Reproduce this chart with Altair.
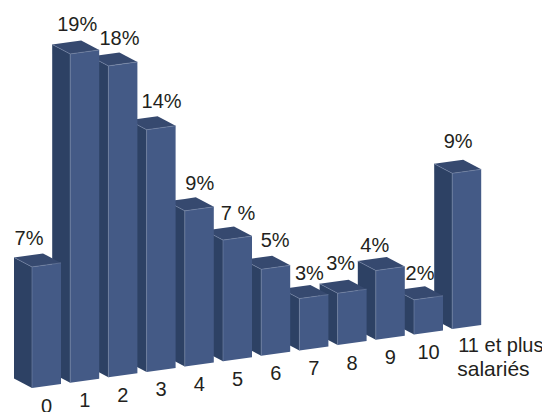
import altair as alt
import pandas as pd

# ---- data ----
categories = ["0", "1", "2", "3", "4", "5", "6", "7", "8", "9", "10"]
last_category = ["11 et plus", "salariés"]
values = [7, 19, 18, 14, 9, 7, 5, 3, 3, 4, 2, 9]
value_labels = ["7%", "19%", "18%", "14%", "9%", "7 %", "5%", "3%", "3%", "4%", "2%", "9%"]

# ---- oblique projection, in pixels per data unit ----
W, H = 534, 404
PX_X, PX_Y = 38.2, 17.3           # one category step, one percent
X0, Y0 = 24 / PX_X, 24 / PX_Y     # front-left foot of the first bar
RISE = 5.36 / PX_Y                # each bar's foot climbs to the right
FW, FWY = 29 / PX_X, 4 / PX_Y     # front face width vector
DX, DY = -18 / PX_X, 9.5 / PX_Y   # depth vector
FRONT, SIDE, TOP, EDGE = "#445a86", "#2d4164", "#36496f", "#7686a8"
INK = "#231f20"

# label nudges (px) from the bar's top-left front corner
LABEL_DX = [-3, 7, 11, 15, 15, 15, 14, 10, 3, -1, 6, 6]
LABEL_DY = [28, 29, 27, 28, 27, 26, 28, 25, 29, 25, 26, 31]

xs = alt.Scale(domain=[0, W / PX_X], range=[0, W], nice=False, zero=False)
ys = alt.Scale(domain=[0, H / PX_Y], range=[H, 0], nice=False, zero=False)
X = alt.X("x:Q", scale=xs, axis=None)
Y = alt.Y("y:Q", scale=ys, axis=None)


def faces(i, v):
    x, y = X0 + i, Y0 + i * RISE
    t = y + v
    rows = []
    for xx, lo, hi in [(x, y, t), (x + FW, y + FWY, t + FWY)]:
        rows.append(dict(face="front", x=xx, y=lo, y2=hi, c=FRONT))
    for xx, lo, hi in [(x + DX, y + DY, t + DY), (x, y, t)]:
        rows.append(dict(face="side", x=xx, y=lo, y2=hi, c=SIDE))
    slope = FWY / FW
    for xx, lo, hi in [
        (x + DX, t + DY, t + DY),
        (x, t, t + DY - DX * slope),
        (x + DX + FW, t + (DX + FW) * slope, t + DY + FWY),
        (x + FW, t + FWY, t + FWY),
    ]:
        rows.append(dict(face="top", x=xx, y=lo, y2=hi, c=TOP))
    return pd.DataFrame(rows)


def edges(i, v):
    x, y = X0 + i, Y0 + i * RISE
    t = y + v
    rows = [
        dict(e="a", x=x, y=y), dict(e="a", x=x, y=t),
        dict(e="b", x=x, y=t), dict(e="b", x=x + FW, y=t + FWY),
        dict(e="c", x=x + DX, y=t + DY), dict(e="c", x=x, y=t),
    ]
    return pd.DataFrame(rows)


layers = []
for i in range(len(values) - 1, -1, -1):
    v = values[i]
    layers.append(
        alt.Chart(faces(i, v)).mark_area(opacity=1, interpolate="linear").encode(
            x=X, y=Y, y2="y2:Q",
            color=alt.Color("c:N", scale=None),
            detail="face:N",
        )
    )
    layers.append(
        alt.Chart(edges(i, v)).mark_line(color=EDGE, strokeWidth=0.6).encode(
            x=X, y=Y, detail="e:N", order=alt.Order("y:Q")
        )
    )

# value labels
lab = pd.DataFrame({
    "x": [X0 + i + dx / PX_X for i, dx in enumerate(LABEL_DX)],
    "y": [Y0 + i * RISE + v + dy / PX_Y for i, (v, dy) in enumerate(zip(values, LABEL_DY))],
    "t": value_labels,
})
text = dict(font="Liberation Sans", fontSize=20, color=INK)
layers.append(
    alt.Chart(lab).mark_text(align="center", baseline="middle", **text).encode(x=X, y=Y, text="t:N")
)

# category labels under the front faces
cat = pd.DataFrame({
    "x": [X0 + i + FW / 2 for i in range(len(categories))],
    "y": [Y0 + i * RISE + FWY / 2 - 20.5 / PX_Y for i in range(len(categories))],
    "t": categories,
})
layers.append(
    alt.Chart(cat).mark_text(align="center", baseline="middle", **text).encode(x=X, y=Y, text="t:N")
)

n = len(values) - 1
for k, (name, size) in enumerate(zip(last_category, [20, 21])):
    last = pd.DataFrame({
        "x": [X0 + n + (6 - k) / PX_X],
        "y": [Y0 + n * RISE - (17 + 24 * k) / PX_Y],
        "t": [name],
    })
    layers.append(
        alt.Chart(last)
        .mark_text(align="left", baseline="middle", font="Liberation Sans", fontSize=size, color=INK)
        .encode(x=X, y=Y, text="t:N")
    )

chart = (
    alt.layer(*layers)
    .properties(width=W, height=H, padding=0, autosize=alt.AutoSizeParams(type="none"), background="white")
    .configure_view(stroke=None)
)

chart.save("out.html", embed_options={"renderer": "svg", "actions": False})
